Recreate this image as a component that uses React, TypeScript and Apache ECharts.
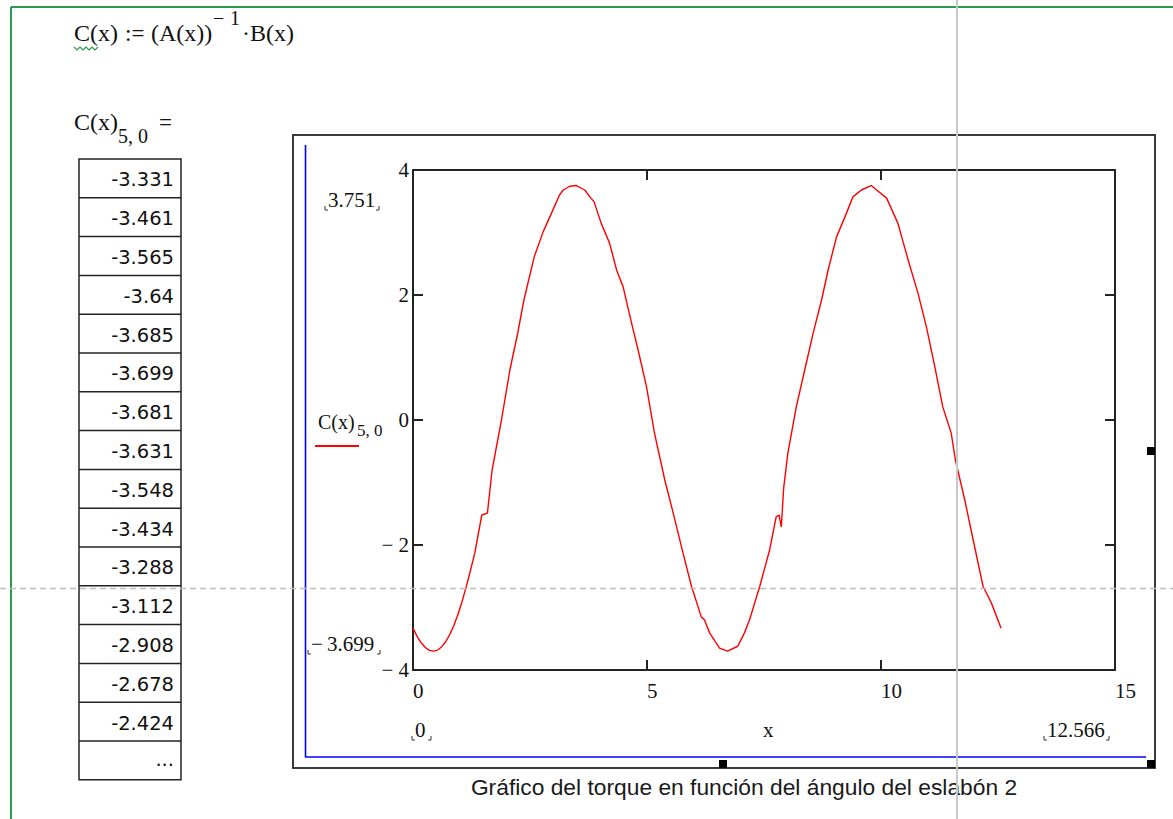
import React, { useEffect, useRef } from "react";
import * as echarts from "echarts";

// ---- Data ----
// Values listed in the Mathcad output table: C(x)_{5,0} for x = 0, 5°, 10°, ... 70°
const tableValues = [
  "-3.331", "-3.461", "-3.565", "-3.64", "-3.685", "-3.699", "-3.681", "-3.631",
  "-3.548", "-3.434", "-3.288", "-3.112", "-2.908", "-2.678", "-2.424",
];
const tableX = [
  0, 0.087, 0.175, 0.262, 0.349, 0.436, 0.524, 0.611, 0.698, 0.785, 0.873, 0.96,
  1.047, 1.134, 1.222,
];
// Points of the curve (x in rad, C(x)_{5,0})
const curveX = [
  1.32, 1.47, 1.59, 1.69, 1.89, 2.07, 2.24, 2.37, 2.59, 2.78, 2.96, 3.13, 3.21, 3.35,
  3.49, 3.67, 3.78, 3.87, 4.02, 4.2, 4.35, 4.49, 4.67, 4.81, 4.99, 5.16, 5.38, 5.56,
  5.77, 5.95, 6.16, 6.23, 6.34, 6.55, 6.72, 6.94, 7.08, 7.19, 7.41, 7.62, 7.76, 7.82,
  7.87, 7.92, 8.01, 8.19, 8.37, 8.55, 8.73, 8.87, 9.05, 9.23, 9.4, 9.58, 9.79, 10.12,
  10.36, 10.58, 10.79, 10.97, 11.15, 11.32, 11.5, 11.59, 11.79, 11.97, 12.18, 12.36,
  12.566,
];
const curveY = [
  -2.13, -1.52, -1.49, -0.8, 0.0, 0.8, 1.4, 1.92, 2.61, 3.01, 3.31, 3.6, 3.68, 3.74,
  3.751, 3.68, 3.57, 3.49, 3.15, 2.83, 2.4, 2.13, 1.55, 1.12, 0.53, -0.21, -0.96, -1.49,
  -2.13, -2.66, -3.15, -3.2, -3.41, -3.65, -3.699, -3.62, -3.41, -3.2, -2.66, -2.08, -1.55, -1.52,
  -1.71, -1.09, -0.53, 0.21, 0.8, 1.39, 1.92, 2.4, 2.93, 3.25, 3.57, 3.68, 3.751, 3.55,
  3.15, 2.56, 2.03, 1.49, 0.85, 0.21, -0.21, -0.64, -1.28, -1.92, -2.66, -2.93,
  -3.331,
];
const xTicks = { min: 0, max: 15, interval: 5 };
const yTicks = { min: -4, max: 4, interval: 2 };
const yLimitLabels = ["3.751", "\u2212\u20093.699"];
const xLimitLabels = ["0", "12.566"];
const xAxisName = "x";
const caption = "Gráfico del torque en función del ángulo del eslabón 2";

const SERIF = '"Liberation Serif", "Times New Roman", serif';
const SANS = '"Liberation Sans", Arial, sans-serif';
const VERD = '"DejaVu Sans", Verdana, sans-serif';

function txt(text: string, x: number, baseline: number, fs: number, family: string, align = "left", fill = "#111", asc = 0.3375) {
  return {
    type: "text",
    silent: true,
    x,
    y: baseline - asc * fs,
    style: {
      text,
      font: `${fs}px ${family}`,
      fill,
      align,
      textAlign: align,
      verticalAlign: "middle",
      textVerticalAlign: "middle",
    },
  };
}
function ln(x1: number, y1: number, x2: number, y2: number, stroke: string, lineWidth: number, extra: any = {}) {
  return {
    type: "line",
    silent: true,
    shape: { x1, y1, x2, y2 },
    style: { stroke, lineWidth, ...(extra.style || {}) },
    z: extra.z ?? 0,
  };
}
function brackets(xl: number, xr: number, b: number) {
  return [
    { type: "polyline", silent: true, shape: { points: [[xl, b - 1], [xl, b + 3], [xl + 3, b + 3]] }, style: { stroke: "#333", lineWidth: 1, fill: "none" } },
    { type: "polyline", silent: true, shape: { points: [[xr - 3, b + 3], [xr, b + 3], [xr, b - 1]] }, style: { stroke: "#333", lineWidth: 1, fill: "none" } },
  ];
}

export default function App() {
  const ref = useRef<HTMLDivElement>(null);
  useEffect(() => {
    if (!ref.current) return;
    const chart = echarts.init(ref.current, null, { renderer: "svg" });

    const data: [number, number][] = [];
    tableX.forEach((x, i) => data.push([x, parseFloat(tableValues[i])]));
    curveX.forEach((x, i) => data.push([x, curveY[i]]));

    const graphics: any[] = [];
    // green worksheet region border
    graphics.push(ln(11, 7, 1173, 7, "#2a9a50", 2));
    graphics.push(ln(11, 7, 11, 819, "#2a9a50", 2));

    // formula
    graphics.push(txt("C(x)", 74, 41, 24, SERIF));
    graphics.push(txt(":=", 125, 41, 23, SERIF));
    graphics.push(txt("(A(x))", 151, 41, 24, SERIF));
    graphics.push(txt("\u2212", 213, 25, 20, SERIF));
    graphics.push(txt("1", 230, 25, 20, SERIF));
    graphics.push(txt("\u00b7B(x)", 242, 41, 24, SERIF));
    graphics.push({
      type: "polyline",
      silent: true,
      shape: { points: [[74, 47], [77, 50], [80, 47], [83, 50], [86, 47], [89, 50], [92, 47], [95, 50], [98, 47]] },
      style: { stroke: "#2a9a50", lineWidth: 1.2, fill: "none" },
    });

    // C(x)_{5,0} =
    graphics.push(txt("C(x)", 74, 130, 24, SERIF));
    graphics.push(txt("5, 0", 118, 143, 20, SERIF));
    graphics.push(txt("=", 159, 130, 23, SERIF));

    // table
    const tTop = 159, rowH = 38.8, tL = 79, tR = 181;
    const nRows = tableValues.length + 1;
    graphics.push({ type: "rect", silent: true, shape: { x: tL, y: tTop, width: tR - tL, height: rowH * nRows }, style: { fill: "#fff", stroke: "#222", lineWidth: 1.5 } });
    for (let i = 1; i < nRows; i++) graphics.push(ln(tL, tTop + i * rowH, tR, tTop + i * rowH, "#222", 1.5));
    tableValues.forEach((v, i) => {
      graphics.push(txt(v, 174, tTop + i * rowH + rowH / 2 + 8.5, 19.5, VERD, "right", "#111", 0.36));
    });
    graphics.push(txt("...", 174, tTop + (nRows - 1) * rowH + rowH / 2 + 6, 19.5, VERD, "right", "#111", 0.36));

    // plot region frame
    graphics.push({ type: "rect", silent: true, shape: { x: 293, y: 135, width: 862, height: 633 }, style: { fill: "none", stroke: "#3a3a3a", lineWidth: 2 } });
    graphics.push(ln(305.5, 145, 305.5, 757, "#0000ff", 1.6));
    graphics.push(ln(305, 757, 1146, 757, "#0000ff", 1.6));
    graphics.push({ type: "rect", silent: true, shape: { x: 1147, y: 447, width: 8, height: 8 }, style: { fill: "#000" } });
    graphics.push({ type: "rect", silent: true, shape: { x: 1147, y: 760, width: 8, height: 8 }, style: { fill: "#000" } });
    graphics.push({ type: "rect", silent: true, shape: { x: 719, y: 760, width: 8, height: 8 }, style: { fill: "#000" } });

    // axis limit labels
    graphics.push(txt(yLimitLabels[0], 328, 207, 21, SERIF));
    graphics.push(...brackets(325, 379, 207));
    graphics.push(txt(yLimitLabels[1], 311, 651, 21, SERIF));
    graphics.push(...brackets(308, 380, 651));
    graphics.push(txt(xLimitLabels[0], 415, 737, 21, SERIF));
    graphics.push(...brackets(412, 431, 737));
    graphics.push(txt(xLimitLabels[1], 1047, 737, 21, SERIF));
    graphics.push(...brackets(1044, 1109, 737));
    graphics.push(txt(xAxisName, 763, 737, 21, SERIF));

    // legend
    graphics.push(txt("C(x)", 318, 429, 20, SERIF));
    graphics.push(txt("5, 0", 357, 436, 17, SERIF));
    graphics.push(ln(315, 446, 359, 446, "#ff0000", 2));

    // caption
    graphics.push(txt(caption, 744, 795, 22.8, SANS, "center", "#1a1a1a", 0.3465));

    // cursor crosshair
    graphics.push(ln(957, 0, 957, 819, "#c8c8c8", 2, { z: 100 }));
    graphics.push(ln(0, 588.5, 1173, 588.5, "#bdbdbd", 1.5, { z: 100, style: { lineDash: [6, 4] } }));

    const axisLine = { show: true, onZero: false, lineStyle: { color: "#222", width: 2 } };
    const axisTick = { show: true, inside: true, length: 10, lineStyle: { color: "#222", width: 2 } };

    chart.setOption({
      animation: false,
      backgroundColor: "#fff",
      grid: { left: 413, top: 170, width: 702, height: 500, containLabel: false },
      xAxis: [
        {
          type: "value", ...xTicks, position: "bottom",
          axisLine, axisTick, splitLine: { show: false },
          axisLabel: { align: "left", margin: 10, fontFamily: SERIF, fontSize: 21, color: "#111" },
        },
        {
          type: "value", ...xTicks, position: "top",
          axisLine, axisTick, splitLine: { show: false }, axisLabel: { show: false },
        },
      ],
      yAxis: [
        {
          type: "value", ...yTicks, position: "left",
          axisLine, axisTick, splitLine: { show: false },
          axisLabel: {
            margin: 4, fontFamily: SERIF, fontSize: 21, color: "#111",
            formatter: (v: number) => (v < 0 ? "\u2212 " + Math.abs(v) : String(v)),
          },
        },
        {
          type: "value", ...yTicks, position: "right",
          axisLine, axisTick, splitLine: { show: false }, axisLabel: { show: false },
        },
      ],
      series: [
        {
          type: "line",
          xAxisIndex: 0,
          yAxisIndex: 0,
          data,
          showSymbol: false,
          symbol: "none",
          lineStyle: { color: "#ff0000", width: 1.4 },
          z: 5,
        },
      ],
      graphic: { elements: graphics },
    });
    return () => chart.dispose();
  }, []);
  return <div ref={ref} style={{ position: "absolute", left: 0, top: 0, width: 1173, height: 819, background: "#fff" }} />;
}
